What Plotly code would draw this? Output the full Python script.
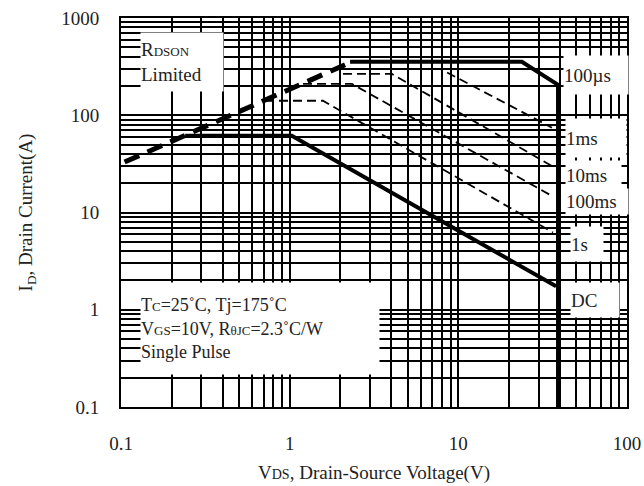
import plotly.graph_objects as go

# ---- data ----
x_ticks = [0.1, 1, 10, 100]
x_tick_text = ["0.1", "1", "10", "100"]
y_ticks = [0.1, 1, 10, 100, 1000]
y_tick_text = ["0.1", "1", "10", "100", "1000"]

rdson_v = [0.105, 2.13]
rdson_i = [33, 330]

us100_v = [2.28, 23.8, 39, 39]
us100_i = [354, 354, 205, 0.1]

ms1_v = [2.28, 7.8, 35.9]
ms1_i = [300, 300, 74.5]

ms10_v = [2.07, 4.04, 36.4]
ms10_i = [266, 266, 29.6]

ms100_v = [1.20, 2.34, 36.4]
ms100_i = [210, 210, 14.6]

s1_v = [0.714, 1.575, 36.4]
s1_i = [141, 141, 6.24]

dc_v = [0.24, 1.03, 38]
dc_i = [61.6, 61.6, 1.74]

minor_x = [m * d for d in (0.1, 1, 10) for m in range(2, 10)]
minor_y = [m * d for d in (0.1, 1, 10, 100) for m in range(2, 10)]

FONT = "Liberation Serif"
fig = go.Figure()

def add(v, i, width, dash):
    fig.add_trace(go.Scatter(x=v, y=i, mode="lines",
                             line=dict(color="black", width=width, dash=dash),
                             hoverinfo="skip", showlegend=False))

add(rdson_v, rdson_i, 5, "16px,9px")
add(ms1_v, ms1_i, 1.8, "9px,5px")
add(ms10_v, ms10_i, 1.8, "9px,5px")
add(ms100_v, ms100_i, 1.8, "9px,5px")
add(s1_v, s1_i, 1.8, "9px,5px")
add(us100_v, us100_i, 4, "solid")
add(dc_v, dc_i, 4, "solid")

# body margin removed by post_script, so figure coords = page coords
OFF = 0
W, H = 644, 486
L, T = 121 - OFF, 18 - OFF
R = W - (627 - OFF)
B = H - (407 - OFF)
pw, ph = W - L - R, H - T - B

def px(xp):
    return (xp - OFF - L) / pw

def py(yp):
    return (H - B - (yp - OFF)) / ph

def box(text, x0, y0, x1, y1, align="center", size=19):
    fig.add_annotation(
        x=px(x0), y=py(y0), xref="paper", yref="paper",
        xanchor="left", yanchor="top",
        width=x1 - x0, height=y1 - y0, align=align, valign="middle",
        text=text, showarrow=False, bgcolor="white", borderpad=0,
        font=dict(family=FONT, size=size, color="#222"))

sm = "<span style='font-size:13px'>{}</span>"

box("R" + sm.format("DSON") + "<br>Limited", 140, 32, 222, 90, align="left")
box("100µs", 563, 55, 627, 93, align="left")
box("1ms", 565, 118, 625, 156, align="left")
box("10ms", 565, 160, 620, 188, align="left")
box("100ms", 565, 188, 627, 213, align="left")
box("1s", 570, 226, 602, 260, align="left")
box("DC", 570, 282, 618, 316, align="left")
box("T" + sm.format("C") + "=25˚C, Tj=175˚C<br>"
    "V" + sm.format("GS") + "=10V, R" + sm.format("θJC") + "=2.3˚C/W<br>"
    "Single Pulse", 140, 282, 378, 373, align="left", size=18)

axis_common = dict(
    type="log", showgrid=True, gridcolor="black", gridwidth=2,
    showline=True, linecolor="black", linewidth=2, mirror=True,
    ticks="", tickfont=dict(family=FONT, size=19, color="#222"),
    zeroline=False, ticklabeloverflow="allow",
)

fig.update_xaxes(
    **axis_common, range=[-1, 2], tickvals=x_ticks, ticktext=x_tick_text,
    ticklabelstandoff=18,
    minor=dict(tickvals=minor_x, showgrid=True, gridcolor="black", gridwidth=2),
    title=dict(text="V" + "<span style='font-size:14px'>DS</span>, Drain-Source Voltage(V)",
               font=dict(family=FONT, size=19, color="#222"), standoff=13),
)
fig.update_yaxes(
    **axis_common, range=[-1, 3], tickvals=y_ticks, ticktext=y_tick_text,
    ticklabelstandoff=16,
    minor=dict(tickvals=minor_y, showgrid=True, gridcolor="black", gridwidth=2),
    title=dict(text="I<sub>D</sub>, Drain Current(A)",
               font=dict(family=FONT, size=19, color="#222"), standoff=24),
)

fig.update_layout(
    width=W, height=H,
    margin=dict(l=L, r=R, t=T, b=B, autoexpand=False),
    paper_bgcolor="white", plot_bgcolor="white",
    showlegend=False,
)

fig.write_html(
    "out.html",
    config={"displayModeBar": False, "staticPlot": True},
    post_script="document.body.style.margin='0';document.body.style.overflow='hidden';",
)
